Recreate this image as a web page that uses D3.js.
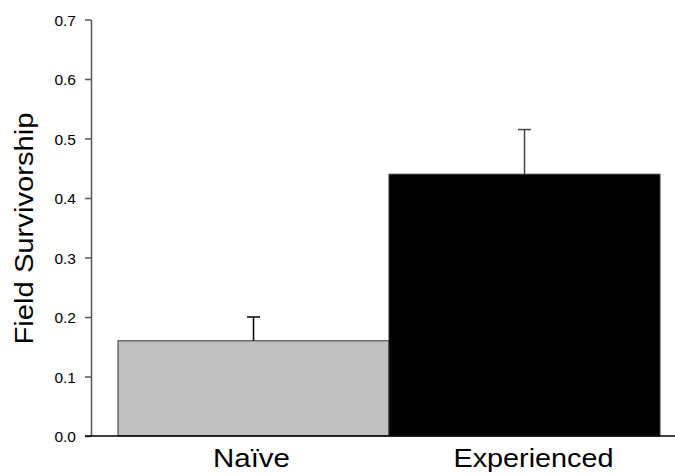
<!DOCTYPE html>
<html>
<head>
<meta charset="utf-8">
<script src="https://cdn.jsdelivr.net/npm/d3@7"></script>
<style>
  body { margin: 0; background: #fff; }
  svg { font-family: "Liberation Sans", Arial, sans-serif; }
</style>
</head>
<body>
<svg id="chart"></svg>
<script>
// === Data ===
const groups = ["Naïve", "Experienced"];
const means = [0.16, 0.44];
const upperErrors = [0.20, 0.515];
const barColors = ["#c0c0c0", "#000000"];
const yTicks = [0.0, 0.1, 0.2, 0.3, 0.4, 0.5, 0.6, 0.7];
const labelWidths = [77, 160];

const svg = d3.select("#chart").attr("width", 675).attr("height", 476);

const x = d3.scaleBand().domain(groups).range([118, 660]).padding(0);
const y = d3.scaleLinear().domain([0, 0.7]).range([436, 19.5]);

// bars
svg.selectAll("rect.bar").data(groups).enter().append("rect")
  .attr("class", "bar")
  .attr("x", d => x(d))
  .attr("y", (d, i) => y(means[i]))
  .attr("width", x.bandwidth())
  .attr("height", (d, i) => y(0) - y(means[i]))
  .attr("fill", (d, i) => barColors[i])
  .attr("stroke", "#333").attr("stroke-width", 1);

// error bars (upper only)
groups.forEach((g, i) => {
  const cx = x(g) + x.bandwidth() / 2;
  svg.append("line").attr("x1", cx).attr("x2", cx)
    .attr("y1", y(means[i])).attr("y2", y(upperErrors[i]))
    .attr("stroke", i === 0 ? "#000" : "#444").attr("stroke-width", 1.5);
  svg.append("line").attr("x1", cx - 6.5).attr("x2", cx + 6.5)
    .attr("y1", y(upperErrors[i])).attr("y2", y(upperErrors[i]))
    .attr("stroke", i === 0 ? "#000" : "#444").attr("stroke-width", 1.5);
});

// y axis
const yAxis = svg.append("g").attr("transform", "translate(91,0)")
  .call(d3.axisLeft(y).tickValues(yTicks).tickFormat(d3.format(".1f")).tickSize(6).tickSizeOuter(0).tickPadding(9));
yAxis.attr("font-size", 15.5).attr("font-family", "Liberation Sans, Arial, sans-serif");
yAxis.select(".domain").attr("stroke", "#555").attr("stroke-width", 1.5);
yAxis.selectAll(".tick line").attr("stroke", "#555").attr("stroke-width", 1.5);
yAxis.selectAll("text").attr("dy", "0.37em").attr("fill", "#000");

// x axis baseline
svg.append("line").attr("x1", 85).attr("x2", 675)
  .attr("y1", y(0)).attr("y2", y(0)).attr("stroke", "#000").attr("stroke-width", 1.5);

// category labels
svg.selectAll("text.cat").data(groups).enter().append("text")
  .attr("class", "cat")
  .attr("x", (d, i) => x(d) + x.bandwidth() / 2 + (i === 1 ? 9 : -2))
  .attr("y", 467)
  .attr("text-anchor", "middle")
  .style("font-size", "25px")
  .attr("textLength", (d, i) => labelWidths[i]).attr("lengthAdjust", "spacingAndGlyphs")
  .text(d => d);

// y title
svg.append("text").attr("transform", "rotate(-90)")
  .attr("x", -228.5).attr("y", 33)
  .attr("text-anchor", "middle").style("font-size", "25px")
  .attr("textLength", 232).attr("lengthAdjust", "spacingAndGlyphs")
  .text("Field Survivorship");
</script>
</body>
</html>
